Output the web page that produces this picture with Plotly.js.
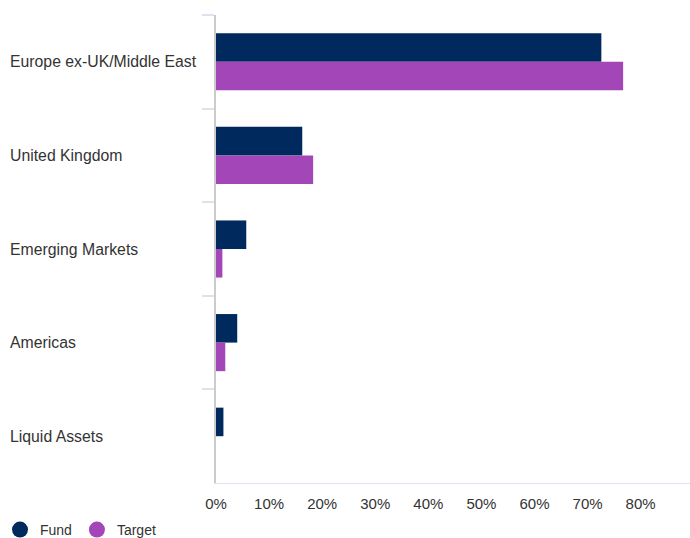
<!DOCTYPE html>
<html>
<head>
<meta charset="utf-8">
<script src="https://cdn.plot.ly/plotly-3.0.1.min.js"></script>
<style>html,body{margin:0;padding:0;background:#fff;}#chart{width:690px;height:538px;}</style>
</head>
<body>
<div id="chart"></div>
<script>
const categories = ["Europe ex-UK/Middle East", "United Kingdom", "Emerging Markets", "Americas", "Liquid Assets"];
const fundValues = [0.726, 0.1625, 0.057, 0.040, 0.014];
const targetValues = [0.767, 0.183, 0.012, 0.0175, 0];
const xTickValues = [0, 0.1, 0.2, 0.3, 0.4, 0.5, 0.6, 0.7, 0.8];
const xTickLabels = ["0%", "10%", "20%", "30%", "40%", "50%", "60%", "70%", "80%"];
const seriesNames = ["Fund", "Target"];
const seriesColors = ["#002A5E", "#A346B8"];

const fam = "Liberation Sans, Arial, sans-serif";
const font = {family: fam, size: 15, color: "#333333"};
const catFont = {family: fam, size: 15.8, color: "#333333"};
const legendFont = {family: fam, size: 14, color: "#333333"};

const traces = [
  {type: "bar", orientation: "h", name: seriesNames[0], y: categories, x: fundValues,
   marker: {color: seriesColors[0]}, showlegend: false, hoverinfo: "x+y"},
  {type: "bar", orientation: "h", name: seriesNames[1], y: categories, x: targetValues,
   marker: {color: seriesColors[1]}, showlegend: false, hoverinfo: "x+y"},
  {type: "scatter", mode: "markers", name: seriesNames[0], x: [null], y: [null],
   marker: {color: seriesColors[0], size: 16, symbol: "circle"}, showlegend: true},
  {type: "scatter", mode: "markers", name: seriesNames[1], x: [null], y: [null],
   marker: {color: seriesColors[1], size: 16, symbol: "circle"}, showlegend: true}
];

const plotLeft = 216, plotWidth = 474, plotHeight = 468;
const annotations = categories.map(c => ({
  text: c, xref: "paper", yref: "y", x: (8 - plotLeft) / plotWidth, y: c,
  xanchor: "left", yanchor: "middle", showarrow: false, font: catFont
}));

const layout = {
  width: 690, height: 538,
  margin: {l: plotLeft, r: 0, t: 15, b: 55, autoexpand: false},
  paper_bgcolor: "#ffffff", plot_bgcolor: "#ffffff",
  font: font,
  barmode: "group", bargap: 0.39, bargroupgap: 0,
  xaxis: {
    range: [0, 0.893], tickvals: xTickValues, ticktext: xTickLabels,
    showgrid: false, zeroline: false, showline: true, linecolor: "#dce2ee", linewidth: 1,
    ticks: "", ticklabelstandoff: 7, tickfont: font, fixedrange: true
  },
  yaxis: {
    autorange: "reversed", type: "category", showticklabels: false,
    showgrid: false, zeroline: false, showline: true, linecolor: "#cccccc", linewidth: 2,
    ticks: "outside", tickson: "boundaries", ticklen: 12, tickcolor: "#dce2ee", tickwidth: 2,
    fixedrange: true
  },
  legend: {
    orientation: "h", xref: "paper", yref: "paper",
    x: (0 - plotLeft) / plotWidth, xanchor: "left", y: -47 / plotHeight, yanchor: "middle",
    font: legendFont, itemsizing: "trace", bgcolor: "rgba(0,0,0,0)", itemwidth: 30
  },
  annotations: annotations
};

Plotly.newPlot("chart", traces, layout, {displayModeBar: false, staticPlot: true});
</script>
</body>
</html>
